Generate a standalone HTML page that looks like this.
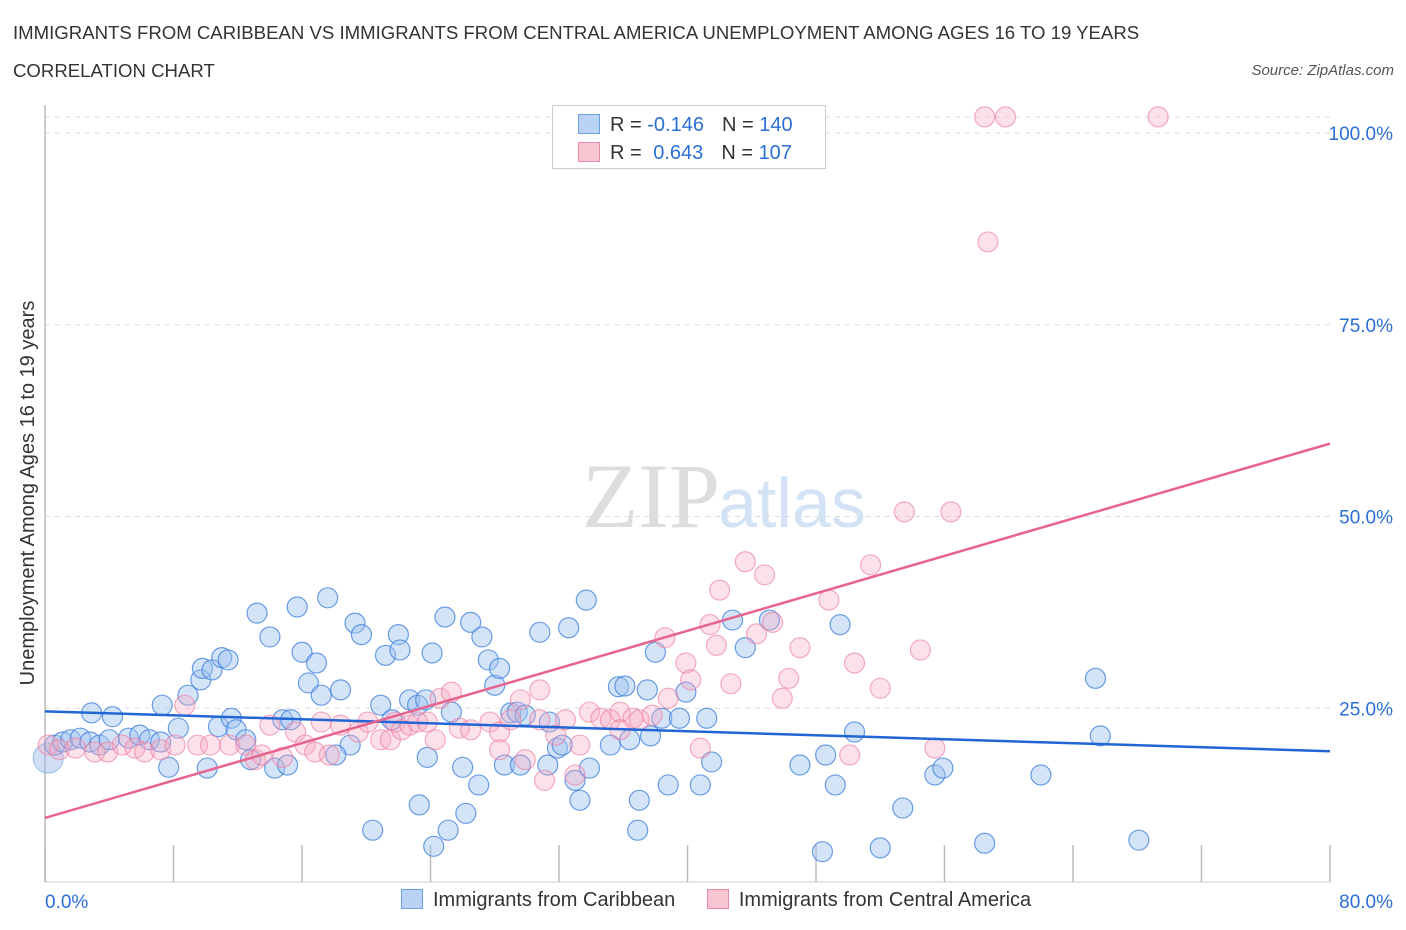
<!DOCTYPE html>
<html><head><meta charset="utf-8"><style>
body{margin:0;background:#fff;font-family:"Liberation Sans",sans-serif;}
.t{position:absolute;white-space:nowrap;}
</style></head><body>
<div style="position:relative;width:1406px;height:930px;overflow:hidden">
<div class="t" style="left:13px;top:22px;font-size:18.6px;color:#333">IMMIGRANTS FROM CARIBBEAN VS IMMIGRANTS FROM CENTRAL AMERICA UNEMPLOYMENT AMONG AGES 16 TO 19 YEARS</div>
<div class="t" style="left:13px;top:60px;font-size:18.6px;color:#333">CORRELATION CHART</div>
<div class="t" style="right:12px;top:62px;font-size:15px;color:#555;font-style:italic">Source: ZipAtlas.com</div>
<svg id="plot" width="1406" height="930" style="position:absolute;left:0;top:0">
<text x="720" y="527" text-anchor="end" font-family="Liberation Serif" font-size="92" fill="#ddd">ZIP</text>
<text x="718" y="527" font-family="Liberation Sans" font-size="70" fill="#d3e2f5">atlas</text>
<text x="34" y="493" transform="rotate(-90 34 493)" text-anchor="middle" font-size="20" fill="#333">Unemployment Among Ages 16 to 19 years</text>
</svg>
<div style="position:absolute;left:552px;top:105px;width:272px;height:62px;border:1px solid #ccc;background:#fff;font-size:20px">
 <div style="position:absolute;left:25px;top:8px;"><span style="display:inline-block;width:20px;height:18px;background:#b9d3f5;border:1px solid #6fa0e0;vertical-align:-3px"></span><span style="color:#333;margin-left:10px">R = </span><span style="color:#2a6fd6">-0.146</span><span style="color:#333;margin-left:18px">N = </span><span style="color:#2a6fd6">140</span></div>
 <div style="position:absolute;left:25px;top:36px;"><span style="display:inline-block;width:20px;height:18px;background:#f8c5d3;border:1px solid #e98aa7;vertical-align:-3px"></span><span style="color:#333;margin-left:10px">R = </span><span style="color:#2a6fd6;margin-left:6px">0.643</span><span style="color:#333;margin-left:18px">N = </span><span style="color:#2a6fd6">107</span></div>
</div>
<div style="position:absolute;left:401px;top:889px;font-size:20px;color:#333">
 <span><span style="display:inline-block;width:20px;height:18px;background:#b9d3f5;border:1px solid #6fa0e0;vertical-align:-3px"></span><span style="margin-left:10px">Immigrants from Caribbean</span></span>
 <span style="margin-left:26px"><span style="display:inline-block;width:20px;height:18px;background:#f8c5d3;border:1px solid #e98aa7;vertical-align:-3px"></span><span style="margin-left:10px">Immigrants from Central America</span></span>
</div>
</div>
<script>
const yTicks=[25,50,75,100];
const yTickLabels=["25.0%","50.0%","75.0%","100.0%"];
const xTicks=[0,8,16,24,32,40,48,56,64,72,80];
const blueX=[0.6,1.1,1.6,2.2,2.8,3.4,4.0,2.9,4.2,5.2,5.9,6.5,7.2,7.7,7.3,8.3,8.9,9.7,9.8,10.4,11.0,11.4,10.1,10.8,11.6,11.9,12.5,13.2,14.0,14.8,15.3,15.7,16.0,16.4,16.9,17.2,17.6,18.4,19.3,19.7,19.0,20.4,20.9,21.2,21.6,22.0,22.1,22.7,23.2,23.7,23.8,24.1,24.9,25.3,26.0,26.5,27.0,27.2,27.6,28.0,28.3,28.6,29.0,29.4,29.6,29.9,30.8,31.3,31.4,31.9,32.2,32.6,33.0,33.3,33.7,33.9,35.2,35.7,36.1,36.4,36.9,37.0,37.5,37.7,38.0,38.4,38.8,39.9,39.5,40.8,41.2,41.5,42.8,43.6,45.1,47.0,48.4,48.6,49.2,49.5,50.4,52.0,53.4,55.4,55.9,58.5,62.0,65.4,65.7,68.1,23.3,25.1,26.2,24.2,18.1,14.3,12.8,15.1];
const blueY=[20.2,20.6,20.9,21.1,20.6,20.2,20.9,24.4,23.9,21.1,21.5,20.9,20.6,17.3,25.4,22.4,26.7,28.7,30.2,30.0,31.6,31.3,17.2,22.6,23.7,22.2,20.9,37.4,34.3,23.5,23.5,38.2,32.3,28.3,30.9,26.7,39.4,27.4,36.1,34.6,20.2,9.1,25.4,31.9,23.5,34.6,32.6,26.1,25.4,26.1,18.6,32.2,36.9,24.5,17.3,36.2,15.0,34.3,31.3,28.0,30.2,17.6,24.4,24.5,17.6,24.1,34.9,17.6,23.2,19.8,20.2,35.5,15.6,13.0,39.1,17.2,20.2,27.8,27.9,20.9,9.1,13.0,27.4,21.4,32.3,23.7,15.0,27.1,23.7,15.0,23.7,18.0,36.5,32.9,36.5,17.6,6.3,18.9,15.0,35.9,21.9,6.8,12.0,16.3,17.2,7.4,16.3,28.9,21.4,7.8,12.4,9.1,11.3,7.0,18.9,17.2,18.3,17.6];
const pinkX=[0.2,0.9,1.9,3.1,3.9,4.8,5.6,6.2,7.2,8.1,8.7,9.5,10.3,11.5,12.5,13.1,13.5,14.0,14.8,15.6,16.2,16.8,17.2,17.7,18.4,19.5,20.1,20.9,21.5,21.8,22.2,22.7,23.2,23.8,24.3,24.6,25.3,25.8,26.5,27.7,28.3,29.0,29.6,30.8,31.1,31.8,32.4,33.3,33.9,34.6,35.2,35.8,36.6,37.0,37.8,38.6,38.8,39.9,40.2,40.8,41.4,41.8,42.0,42.7,43.6,44.3,44.8,45.3,45.9,46.3,47.0,48.8,50.1,50.4,51.4,52.0,53.5,54.5,55.4,56.4,58.5,59.8,69.3,58.7,30.8,28.3,29.9,33.0,35.8];
const pinkY=[20.2,19.6,19.8,19.3,19.3,20.2,19.8,19.3,19.6,20.2,25.4,20.2,20.2,20.2,20.2,18.3,18.9,22.8,18.6,21.9,20.2,19.3,23.2,18.9,22.8,21.9,23.2,20.9,20.9,23.2,22.2,22.8,23.2,23.2,20.9,26.3,27.1,22.4,22.2,23.2,21.9,23.5,26.1,27.4,15.6,21.5,23.5,20.2,24.5,23.7,23.5,24.5,23.7,23.5,24.1,34.2,26.3,30.9,28.7,19.8,35.9,33.2,40.4,28.2,44.1,34.7,42.4,36.2,26.3,28.9,32.9,39.1,18.9,30.9,43.7,27.6,50.6,32.6,19.8,50.6,102.1,102.1,102.1,85.8,23.5,19.6,18.3,16.3,22.2];
const blueTrend=[24.6,19.4];
const pinkTrend=[10.7,59.5];
const X0=45,X1=1330,YB=900;
function sx(v){return X0+(X1-X0)*v/80;}
function sy(v){return YB-v*7.67;}
const svg=document.getElementById('plot');
const NS='http://www.w3.org/2000/svg';
function mk(tag,attrs){const e=document.createElementNS(NS,tag);for(const k in attrs)e.setAttribute(k,attrs[k]);svg.appendChild(e);return e;}
yTicks.forEach((t,i)=>{
 const g=mk('line',{x1:X0,x2:X1,y1:sy(t),y2:sy(t),stroke:'#ddd','stroke-dasharray':'5,5'});
 
 
 const l=mk('text',{x:1393,y:sy(t)+7,'text-anchor':'end','font-size':19,fill:'#2a6fd6','font-family':'Liberation Sans'});
 l.textContent=yTickLabels[i];
 
 
});
const tg=mk('line',{x1:X0,x2:X1,y1:117,y2:117,stroke:'#ddd','stroke-dasharray':'5,5'});


const ya=mk('line',{x1:X0,x2:X0,y1:105,y2:882,stroke:'#bbb','stroke-width':1.5});


const xa=mk('line',{x1:X0,x2:X1,y1:882,y2:882,stroke:'#ccc'});


xTicks.forEach(t=>{
 const tk=mk('line',{x1:sx(t),x2:sx(t),y1:845,y2:882,stroke:'#bbb','stroke-width':1.5});
 
 
});
const xl0=mk('text',{x:45,y:908,'font-size':19,fill:'#2a6fd6','font-family':'Liberation Sans'});xl0.textContent='0.0%';


const xl1=mk('text',{x:1393,y:908,'text-anchor':'end','font-size':19,fill:'#2a6fd6','font-family':'Liberation Sans'});xl1.textContent='80.0%';


const big=mk('circle',{cx:sx(0.2),cy:sy(18.5),r:15,fill:'rgba(150,185,235,0.45)',stroke:'rgba(100,150,225,0.6)'});


blueX.forEach((x,i)=>{
 const c=mk('circle',{cx:sx(x),cy:sy(blueY[i]),r:10,fill:'rgba(160,195,240,0.45)',stroke:'rgba(60,125,220,0.75)','stroke-width':1.2});
 
 
});
pinkX.forEach((x,i)=>{
 const c=mk('circle',{cx:sx(x),cy:sy(pinkY[i]),r:10,fill:'rgba(245,170,195,0.35)',stroke:'rgba(235,120,155,0.6)','stroke-width':1.2});
 
 
});
const bl=mk('line',{x1:sx(0),x2:sx(80),y1:sy(blueTrend[0]),y2:sy(blueTrend[1]),stroke:'#2166d4','stroke-width':2.5});


const pl=mk('line',{x1:sx(0),x2:sx(80),y1:sy(pinkTrend[0]),y2:sy(pinkTrend[1]),stroke:'#e6648e','stroke-width':2.5});


</script>
</body></html>
